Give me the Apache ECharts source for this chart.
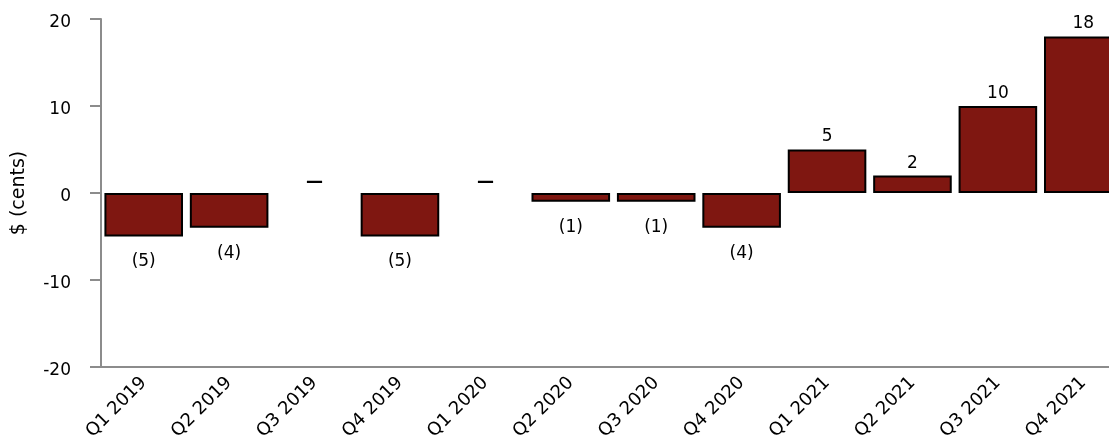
<!DOCTYPE html>
<html>
<head>
<meta charset="utf-8">
<script src="https://cdn.jsdelivr.net/npm/echarts@6/dist/echarts.min.js"></script>
<style>
  html, body { margin: 0; padding: 0; background: #fff; overflow: hidden; }
  /* plot runs slightly past the right edge of the window */
  #chart { width: 1126px; height: 447px; }
</style>
</head>
<body>
<div id="chart"></div>
<script>
// Quarterly earnings per share, in cents
const quarters = ['Q1 2019', 'Q2 2019', 'Q3 2019', 'Q4 2019', 'Q1 2020', 'Q2 2020',
                  'Q3 2020', 'Q4 2020', 'Q1 2021', 'Q2 2021', 'Q3 2021', 'Q4 2021'];
const epsCents = [-5, -4, 0, -5, 0, -1, -1, -4, 5, 2, 10, 18];
const yTicks = { min: -20, max: 20, interval: 10 };

const FONT = '"DejaVu Sans", sans-serif';
const AXIS_GREY = '#8c8c8c';
const BAR_RED = '#7f1711';

// Negative values in parentheses, zero as a dash
function labelText(v) {
  if (v === 0) return '\u2014';
  return v < 0 ? '(' + Math.abs(v) + ')' : String(v);
}

const barData = epsCents.map(function (v) {
  const item = {
    value: v,
    label: v < 0
      ? { position: 'bottom', distance: 17 }
      : { position: 'top', distance: 4 }
  };
  if (v === 0) {
    item.itemStyle = { color: 'rgba(0,0,0,0)', borderWidth: 0 };
    item.label = { position: 'top', distance: 2, fontWeight: 'bold' };
  }
  return item;
});

const chart = echarts.init(document.getElementById('chart'), null, { renderer: 'canvas' });
chart.setOption({
  animation: false,
  backgroundColor: '#fff',
  grid: { left: 101, top: 19, right: 0, height: 348, containLabel: false },
  xAxis: {
    type: 'category',
    data: quarters,
    boundaryGap: true,
    axisLine: { onZero: false, lineStyle: { color: AXIS_GREY, width: 2 } },
    axisTick: { alignWithLabel: true, length: 8, lineStyle: { color: AXIS_GREY, width: 2 } },
    axisLabel: {
      rotate: 45, margin: 13, color: '#000', fontFamily: FONT, fontSize: 18,
      interval: 0
    },
    splitLine: { show: false }
  },
  yAxis: {
    type: 'value',
    min: yTicks.min, max: yTicks.max, interval: yTicks.interval,
    name: '$ (cents)',
    nameLocation: 'middle',
    nameGap: 72,
    nameTextStyle: { color: '#000', fontFamily: FONT, fontSize: 19 },
    axisLine: { show: true, lineStyle: { color: AXIS_GREY, width: 2 } },
    axisTick: { show: true, length: 11, lineStyle: { color: AXIS_GREY, width: 2 } },
    axisLabel: {
      margin: 30, color: '#000', fontFamily: FONT, fontSize: 17,
      verticalAlign: 'top', lineHeight: 8
    },
    splitLine: { show: false }
  },
  series: [{
    type: 'bar',
    data: barData,
    barCategoryGap: '8%',
    itemStyle: { color: BAR_RED, borderColor: '#000', borderWidth: 2 },
    label: {
      show: true,
      color: '#000',
      fontFamily: FONT,
      fontSize: 17,
      formatter: function (p) { return labelText(p.value); }
    }
  }]
});
</script>
</body>
</html>
